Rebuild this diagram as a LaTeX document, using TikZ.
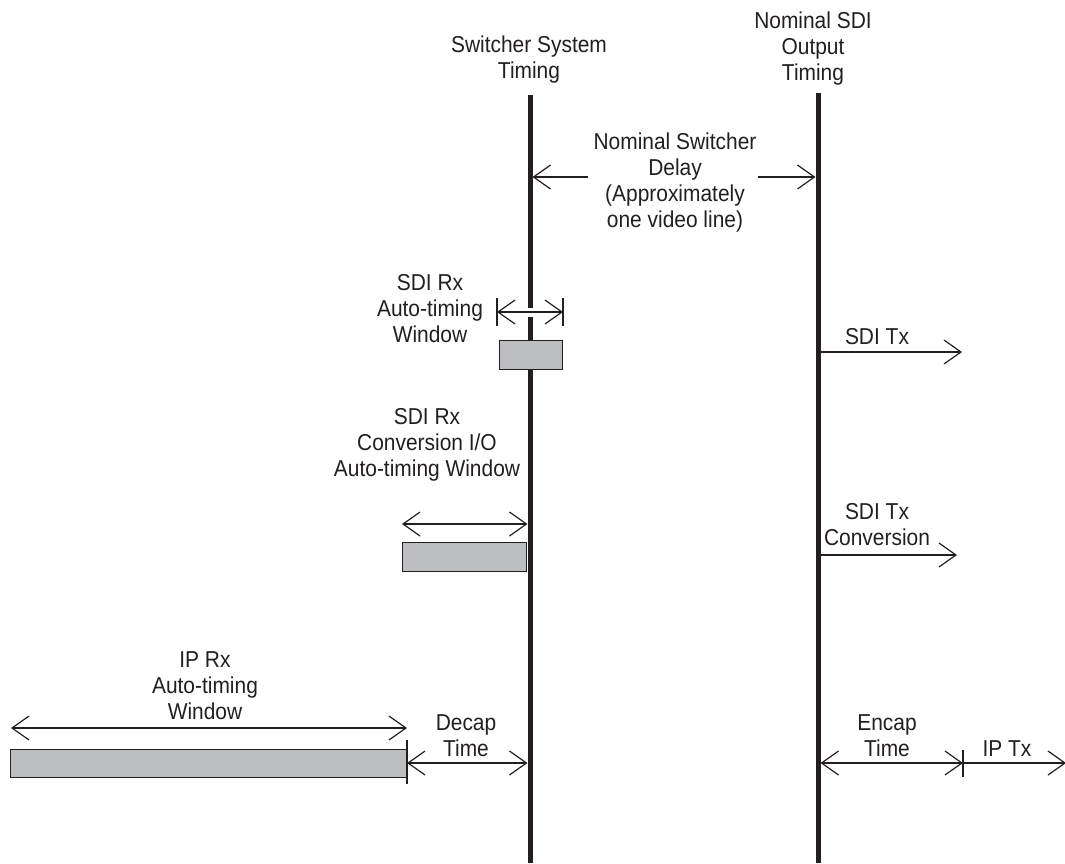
\documentclass[tikz,border=0pt]{standalone}
\usepackage{fontspec}
\setmainfont{Liberation Sans}[FakeStretch=0.91]
\usetikzlibrary{arrows.meta}
\definecolor{inkgray}{HTML}{231F20}
\definecolor{boxgray}{HTML}{BDBEC0}

\begin{document}
\begin{tikzpicture}[x=1pt, y=-1pt,
            >={Straight Barb[length=17pt, width=24pt]},
            timeline/.style={color=inkgray, line width=5pt},
            span/.style={color=inkgray, line width=1.2pt},
            windowbox/.style={fill=boxgray, draw=inkgray, line width=0.8pt},
            label/.style={align=center, inner sep=0pt, text=inkgray,
                font=\fontsize{23}{26}\selectfont}
        ]
            \useasboundingbox (0,0) rectangle (1065,863);

            % timing lines
            \coordinate (swtop) at (530,95);
            \coordinate (swbot) at (530,863);
            \coordinate (outtop) at (818,93);
            \coordinate (outbot) at (818,863);
            \draw[timeline] (swtop) -- (swbot);
            \draw[timeline] (outtop) -- (outbot);

            % line titles
            \node[label] (switchertiming) at (529,60) {Switcher System\\Timing};
            \node[label] (outputtiming) at (813,49) {Nominal SDI\\Output\\Timing};

            % nominal switcher delay
            \node[label] (delaylabel) at (675,183) {Nominal Switcher\\Delay\\(Approximately\\one video line)};
            \coordinate (delayL) at (588,177);
            \coordinate (delayLtip) at (532.5,177);
            \coordinate (delayR) at (758,177);
            \coordinate (delayRtip) at (815.5,177);
            \draw[span, ->] (delayL) -- (delayLtip);
            \draw[span, ->] (delayR) -- (delayRtip);

            % SDI Rx auto-timing window
            \node[label] (rxwinlabel) at (430,309) {SDI Rx\\Auto-timing\\Window};
            \coordinate (rxwinL) at (497,312);
            \coordinate (rxwinR) at (563,312);
            \draw[white, line width=9pt] (524,312) -- (536,312);
            \draw[span, <->] (rxwinL) -- (rxwinR);
            \draw[span] (497,298) -- (497,326);
            \draw[span] (563,298) -- (563,326);
            \draw[windowbox] (499,340) rectangle (562,369);

            % SDI Rx conversion window
            \node[label] (rxconvlabel) at (427,445) {SDI Rx\\Conversion I/O\\Auto-timing Window};
            \coordinate (rxconvL) at (402,524);
            \coordinate (rxconvR) at (527.5,524);
            \draw[span, <->] (rxconvL) -- (rxconvR);
            \draw[windowbox] (402,542) rectangle (526,571);

            % IP Rx window and decap
            \node[label] (iprxlabel) at (205,686) {IP Rx\\Auto-timing\\Window};
            \coordinate (iprxL) at (11,728);
            \coordinate (iprxR) at (407,728);
            \draw[span, <->] (iprxL) -- (iprxR);
            \draw[windowbox] (10,749) rectangle (407,777);
            \draw[span] (407,740) -- (407,784);
            \node[label] (decaplabel) at (466,736) {Decap\\Time};
            \coordinate (decapL) at (407,763);
            \coordinate (decapR) at (527.5,763);
            \draw[span, <->] (decapL) -- (decapR);

            % output side
            \node[label] (sditxlabel) at (877,337) {SDI Tx};
            \coordinate (sditxL) at (820.5,352);
            \coordinate (sditxR) at (962,352);
            \draw[span, ->] (sditxL) -- (sditxR);

            \node[label] (sditxconvlabel) at (877,525) {SDI Tx\\Conversion};
            \coordinate (txconvL) at (820.5,555);
            \coordinate (txconvR) at (957,555);
            \draw[span, ->] (txconvL) -- (txconvR);

            \node[label] (encaplabel) at (887,736) {Encap\\Time};
            \coordinate (encapL) at (820.5,763);
            \coordinate (encapR) at (963,763);
            \draw[span, <->] (encapL) -- (encapR);
            \draw[span] (963,750) -- (963,777);

            \node[label] (iptxlabel) at (1007,749) {IP Tx};
            \coordinate (iptxR) at (1066,763);
            \draw[span, ->] (encapR) -- (iptxR);

        \end{tikzpicture}
\end{document}
